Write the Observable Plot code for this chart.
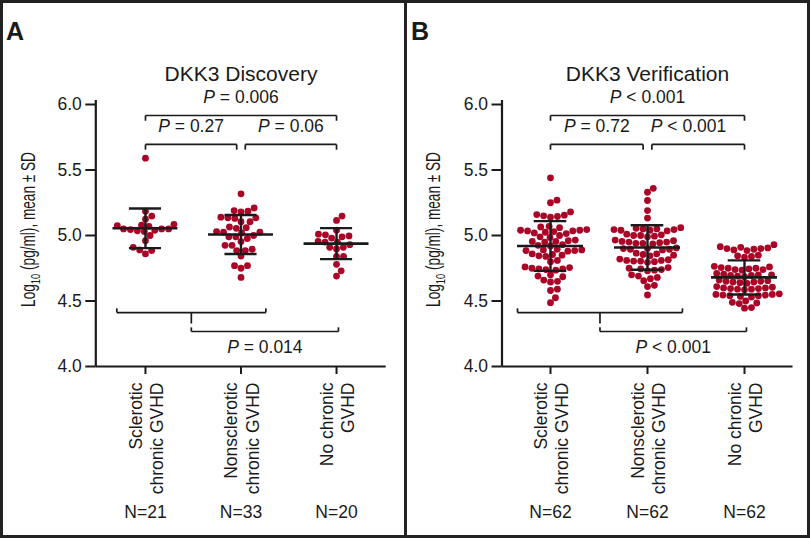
<!DOCTYPE html>
<html><head><meta charset="utf-8">
<script src="https://cdn.jsdelivr.net/npm/d3@7"></script>
<script src="https://cdn.jsdelivr.net/npm/@observablehq/plot@0.6"></script>
<style>
html,body{margin:0;padding:0;background:#fff;}
#fig{position:relative;width:810px;height:538px;overflow:hidden;font-family:"Liberation Sans",Arial,Helvetica,sans-serif;}
.panel{position:absolute;top:0;}
.outer{position:absolute;left:0;top:0;width:810px;height:538px;box-sizing:border-box;border:3px solid #222;}
.divider{position:absolute;left:404px;top:0;width:3px;height:538px;background:#222;}
svg g[aria-label$="tick"]{stroke-width:2px;}
</style></head><body><div id="fig"></div><script>
// ---- data ----
const groups = ["Sclerotic\nchronic GVHD", "Nonsclerotic\nchronic GVHD", "No chronic\nGVHD"];
const titleA = "DKK3 Discovery";
const titleB = "DKK3 Verification";
const nA = ["N=21", "N=33", "N=20"];
const nB = ["N=62", "N=62", "N=62"];
const yTicks = [4.0, 4.5, 5.0, 5.5, 6.0];

const sclA = [5.59, 5.185, 5.148, 5.125, 5.085, 5.079, 5.075, 5.07, 5.05, 5.05, 5.05, 5.045, 5.04, 5.036, 5.03, 5.0, 4.96, 4.91, 4.89, 4.885, 4.86];
const nonA = [5.318, 5.21, 5.19, 5.185, 5.18, 5.14, 5.135, 5.135, 5.13, 5.105, 5.105, 5.065, 5.06, 5.055, 5.03, 5.025, 5.025, 5.02, 5.0, 4.99, 4.99, 4.977, 4.954, 4.925, 4.925, 4.895, 4.885, 4.885, 4.843, 4.77, 4.77, 4.75, 4.68];
const noA = [5.148, 5.115, 5.04, 5.01, 5.005, 4.997, 4.99, 4.98, 4.955, 4.95, 4.95, 4.93, 4.91, 4.91, 4.897, 4.84, 4.84, 4.78, 4.73, 4.69];
const meanA = [5.055, 5.008, 4.938];
const sdA = [0.151, 0.149, 0.118];
const pA = ["P = 0.006", "P = 0.27", "P = 0.06", "P = 0.014"];

const sclB = [5.44, 5.27, 5.25, 5.18, 5.16, 5.155, 5.15, 5.145, 5.14, 5.07,
  5.065, 5.06, 5.045, 5.04, 5.04, 5.035, 5.035, 5.03, 5.025, 5.02,
  5.015, 5.0, 4.99, 4.985, 4.965, 4.96, 4.955, 4.955, 4.95, 4.93,
  4.925, 4.92, 4.895, 4.89, 4.89, 4.885, 4.885, 4.88, 4.86, 4.855,
  4.85, 4.845, 4.84, 4.81, 4.8, 4.76, 4.755, 4.75, 4.745, 4.745,
  4.74, 4.735, 4.7, 4.69, 4.685, 4.66, 4.65, 4.645, 4.59, 4.58,
  4.525, 4.487];
const nonB = [5.36, 5.33, 5.267, 5.19, 5.133,
  5.06, 5.055, 5.05, 5.05, 5.045, 5.045, 5.04, 5.04, 5.035,
  5.01, 5.005, 5.0, 5.0, 4.995, 4.99,
  4.965, 4.96, 4.955, 4.95, 4.95, 4.945, 4.94, 4.94, 4.935,
  4.905, 4.9, 4.9, 4.895, 4.895, 4.89,
  4.865, 4.86, 4.855, 4.85, 4.845,
  4.82, 4.815, 4.81, 4.81, 4.805, 4.805, 4.8, 4.795,
  4.755, 4.75, 4.745, 4.74, 4.735, 4.73,
  4.7, 4.69, 4.68, 4.67, 4.655,
  4.62, 4.61, 4.546];
const noB = [4.93,
  4.915, 4.91, 4.905, 4.9, 4.9, 4.895, 4.89, 4.885,
  4.85, 4.845, 4.84, 4.835,
  4.765, 4.76, 4.755, 4.75, 4.75, 4.745, 4.74, 4.74, 4.735,
  4.71, 4.705, 4.7, 4.7, 4.695, 4.695, 4.69, 4.685,
  4.66, 4.655, 4.65, 4.65, 4.645, 4.645, 4.64, 4.635,
  4.61, 4.605, 4.6, 4.6, 4.595, 4.595, 4.59, 4.59, 4.585,
  4.555, 4.55, 4.55, 4.545, 4.545, 4.54, 4.54, 4.535, 4.53,
  4.5, 4.49, 4.485, 4.48,
  4.45, 4.445];
const meanB = [4.92, 4.908, 4.68];
const sdB = [0.19, 0.17, 0.13];
const pB = ["P < 0.001", "P = 0.72", "P < 0.001", "P < 0.001"];

// ---- drawing ----
const FONT = "'Liberation Sans', Arial, Helvetica, sans-serif";
const RED = "#aa0427";
const INK = "#1a1a1a";

function swarm(series, pxX, pxY) {
  const D = 7.0;
  const pts = [];
  series.forEach((vals, gi) => {
    const placed = [];
    const order = vals.slice().sort((a, b) => a - b);
    for (const v of order) {
      const y = v * pxY;
      const cands = [0];
      for (const p of placed) {
        const dy = Math.abs(p.y - y);
        if (dy < D) { const dx = Math.sqrt(D * D - dy * dy); cands.push(p.x + dx, p.x - dx); }
      }
      cands.sort((a, b) => Math.abs(a) - Math.abs(b));
      let x = 0;
      for (const c of cands) {
        if (placed.every(p => (p.x - c) ** 2 + (p.y - y) ** 2 >= D * D - 1e-6)) { x = c; break; }
      }
      placed.push({x, y});
      pts.push({group: gi, value: v, x: gi + x / pxX});
    }
  });
  return pts;
}

function buildPanel(cfg) {
  const W = 405, H = 538, mt = 104, mb = 172;
  const {xDomain, marginLeft, marginRight} = cfg;
  const pxX = (W - marginLeft - marginRight) / (xDomain[1] - xDomain[0]);
  const pxY = (H - mt - mb) / (6 - 4);
  const pts = swarm(cfg.series, pxX, pxY);
  const stats = cfg.means.map((m, i) => ({i, mean: m, lo: m - cfg.sds[i], hi: m + cfg.sds[i]}));

  // significance brackets
  const segs = [], labs = [];
  const down = (x1, x2, y, d) => { segs.push({x1, x2, y1: y, y2: y}, {x1, x2: x1, y1: y, y2: y - d}, {x1: x2, x2, y1: y, y2: y - d}); };
  const up = (x1, x2, y, d) => { segs.push({x1, x2, y1: y, y2: y}, {x1, x2: x1, y1: y, y2: y + d}, {x1: x2, x2, y1: y, y2: y + d}); };
  down(0, 2, 5.916, 0.04); labs.push({x: 1, y: 6.053, t: cfg.p[0]});
  down(0, 0.955, 5.695, 0.04); labs.push({x: 0.4775, y: 5.832, t: cfg.p[1]});
  down(1.045, 2, 5.695, 0.04); labs.push({x: 1.5225 + cfg.midShift, y: 5.832, t: cfg.p[2]});
  const [b0, b1] = cfg.bottomSpan; const mid = (b0 + b1) / 2;
  up(b0, b1, 4.412, 0.032);
  segs.push({x1: mid, x2: mid, y1: 4.412, y2: 4.328});
  up(mid, 2.02, 4.267, 0.032);
  labs.push({x: (mid + 2.02) / 2, y: 4.149, t: cfg.p[3]});

  const plot = Plot.plot({
    width: W, height: H,
    marginTop: mt, marginBottom: mb, marginLeft, marginRight,
    style: {fontSize: "17.5px", fontFamily: FONT, color: INK, background: "transparent", overflow: "visible"},
    x: {domain: xDomain, ticks: [0, 1, 2], tickFormat: () => "", tickSize: 8, label: null},
    y: {domain: [4, 6], ticks: yTicks, tickFormat: d3.format(".1f"), tickSize: 10, tickPadding: 4, label: null},
    marks: [
      Plot.ruleX([xDomain[0]], {y1: 4, y2: 6.03, strokeWidth: 2.2, stroke: INK}),
      Plot.ruleY([4], {x1: xDomain[0], x2: xDomain[1], strokeWidth: 2.2, stroke: INK}),
      Plot.dot(pts, {x: "x", y: "value", r: 3.4, fill: RED, stroke: "none"}),
      Plot.ruleY(stats, {y: "mean", x1: d => d.i - 0.34, x2: d => d.i + 0.34, strokeWidth: 2.6, stroke: INK}),
      Plot.ruleY(stats, {y: "hi", x1: d => d.i - 0.168, x2: d => d.i + 0.168, strokeWidth: 2.4, stroke: INK}),
      Plot.ruleY(stats, {y: "lo", x1: d => d.i - 0.168, x2: d => d.i + 0.168, strokeWidth: 2.4, stroke: INK}),
      Plot.ruleX(stats, {x: "i", y1: "lo", y2: "hi", strokeWidth: 2.4, stroke: INK}),
      Plot.link(segs, {x1: "x1", y1: "y1", x2: "x2", y2: "y2", stroke: INK, strokeWidth: 1.7}),
      Plot.text(labs, {x: "x", y: "y", text: "t", fontSize: 17.5, fill: INK}),
      Plot.text([{x: 1, t: cfg.title}], {x: "x", text: "t", frameAnchor: "top", dy: -38, fontSize: 21, fill: INK}),
      Plot.text(groups, {x: (d, i) => i, text: d => d, frameAnchor: "bottom", dy: 16, rotate: -90, textAnchor: "end", lineAnchor: "middle", lineHeight: 1.25, fontSize: 17.5, fill: INK}),
      Plot.text(cfg.ns, {x: (d, i) => i, text: d => d, frameAnchor: "bottom", dy: 151, fontSize: 17.5, fill: INK})
    ]
  });

  const svg = d3.select(plot);
  // italic P in p-value labels
  svg.selectAll("text").each(function () {
    const t = this.textContent;
    if (this.childElementCount === 0 && /^P [=<] /.test(t)) {
      this.textContent = "";
      d3.select(this).append("tspan").attr("font-style", "italic").text("P");
      d3.select(this).append("tspan").text(t.slice(1));
    }
  });
  // panel letter
  svg.append("text").attr("x", 15).attr("y", 40).attr("font-size", 25).attr("font-weight", "bold")
    .attr("font-family", FONT).attr("fill", INK).text(cfg.letter);
  // y axis title (condensed)
  const yl = svg.append("text").attr("class", "ylab").attr("text-anchor", "middle")
    .style("font-size", "19.5px")
    .attr("font-family", "'Liberation Sans Narrow','Arial Narrow'," + FONT).attr("fill", INK)
    .attr("transform", "translate(35,229.5) rotate(-90)");
  yl.append("tspan").text("Log");
  yl.append("tspan").style("font-size", "13.5px").attr("dy", 5).text("10");
  yl.append("tspan").attr("dy", -5).text(" (pg/ml), mean ± SD");

  const div = document.createElement("div");
  div.className = "panel";
  div.style.left = cfg.left + "px";
  div.appendChild(plot);
  return div;
}

const fig = document.getElementById("fig");
fig.appendChild(buildPanel({letter: "A", title: titleA, series: [sclA, nonA, noA], means: meanA, sds: sdA, ns: nA, p: pA,
  left: 0, xDomain: [-0.52, 2.52], marginLeft: 95.3, marginRight: 19.3, bottomSpan: [-0.3, 1.26], midShift: 0}));
fig.appendChild(buildPanel({letter: "B", title: titleB, series: [sclB, nonB, noB], means: meanB, sds: sdB, ns: nB, p: pB,
  left: 405, xDomain: [-0.5, 2.5], marginLeft: 96.5, marginRight: 17.5, bottomSpan: [-0.34, 1.36], midShift: -0.1}));
const o = document.createElement("div"); o.className = "outer"; fig.appendChild(o);
const dv = document.createElement("div"); dv.className = "divider"; fig.appendChild(dv);

// fit the condensed y-axis titles to the length seen in the figure
document.querySelectorAll("text.ylab").forEach(t => {
  const len = t.getComputedTextLength();
  if (len > 0) t.setAttribute("transform", `translate(35,229.5) rotate(-90) scale(${155 / len},1)`);
});
</script></body></html>
